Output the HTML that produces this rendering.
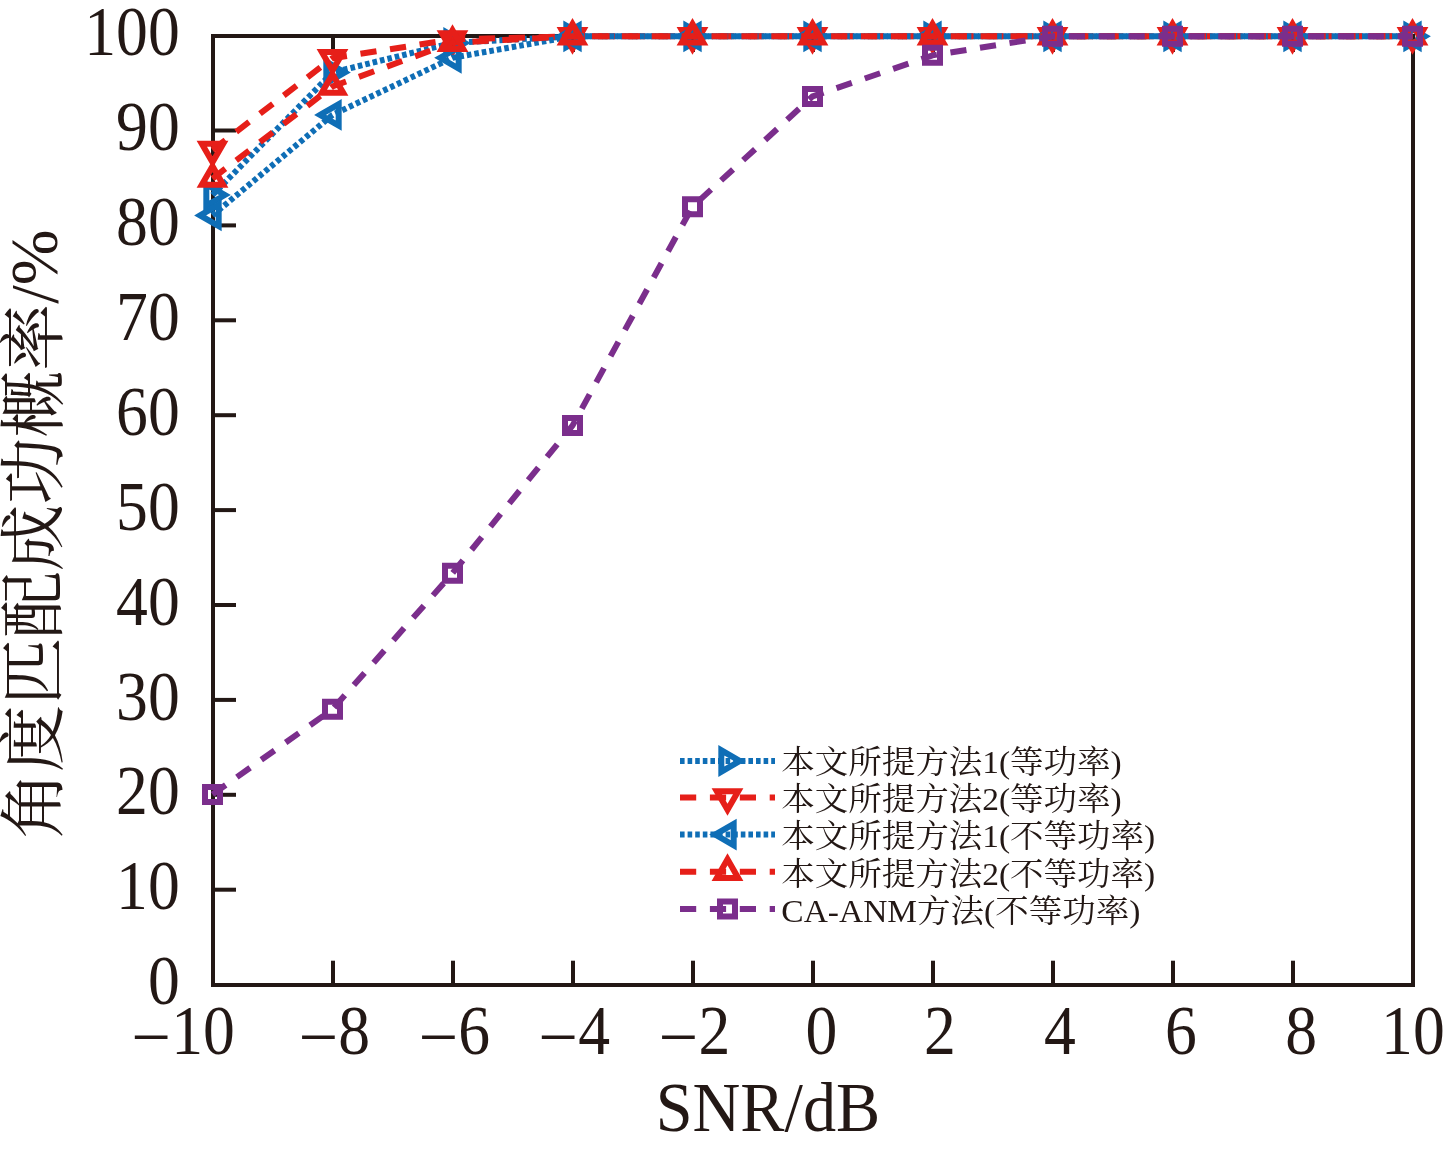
<!DOCTYPE html>
<html lang="zh"><head><meta charset="utf-8"><title>角度匹配成功概率 / SNR</title>
<style>html,body{margin:0;padding:0;background:#fff}svg{display:block;will-change:transform}</style></head>
<body>
<svg width="1446" height="1151" viewBox="0 0 1446 1151">
<rect width="1446" height="1151" fill="#fff"/>
<g stroke="#231815" stroke-width="4" fill="none" stroke-linecap="butt">
<rect x="213" y="36" width="1200" height="949"/>
<path d="M333 985 v-24.3"/>
<path d="M333 36 v16"/>
<path d="M453 985 v-24.3"/>
<path d="M453 36 v16"/>
<path d="M573 985 v-24.3"/>
<path d="M573 36 v16"/>
<path d="M693 985 v-24.3"/>
<path d="M693 36 v16"/>
<path d="M813 985 v-24.3"/>
<path d="M813 36 v16"/>
<path d="M933 985 v-24.3"/>
<path d="M933 36 v16"/>
<path d="M1053 985 v-24.3"/>
<path d="M1053 36 v16"/>
<path d="M1173 985 v-24.3"/>
<path d="M1173 36 v16"/>
<path d="M1293 985 v-24.3"/>
<path d="M1293 36 v16"/>
<path d="M213 889.70 h23"/>
<path d="M213 794.80 h23"/>
<path d="M213 699.90 h23"/>
<path d="M213 605.00 h23"/>
<path d="M213 510.10 h23"/>
<path d="M213 415.20 h23"/>
<path d="M213 320.30 h23"/>
<path d="M213 225.40 h23"/>
<path d="M213 130.50 h23"/>
</g>
<path d="M212.50 195.00 L332.50 72.50 L452.50 42.90 L572.50 36.30 L692.50 36.30 L812.50 36.30 L932.50 36.30 L1052.50 36.30 L1172.50 36.30 L1292.50 36.30 L1412.50 36.30" fill="none" stroke="#0f6eb6" stroke-width="6" stroke-dasharray="4.6 3" stroke-dashoffset="0"/>
<path d="M224.86 195.00 L206.32 205.70 L206.32 184.30Z M344.86 72.50 L326.32 83.20 L326.32 61.80Z M464.86 42.90 L446.32 53.60 L446.32 32.20Z M584.86 36.30 L566.32 47.00 L566.32 25.60Z M704.86 36.30 L686.32 47.00 L686.32 25.60Z M824.86 36.30 L806.32 47.00 L806.32 25.60Z M944.86 36.30 L926.32 47.00 L926.32 25.60Z M1064.86 36.30 L1046.32 47.00 L1046.32 25.60Z M1184.86 36.30 L1166.32 47.00 L1166.32 25.60Z M1304.86 36.30 L1286.32 47.00 L1286.32 25.60Z M1424.86 36.30 L1406.32 47.00 L1406.32 25.60Z" fill="none" stroke="#0f6eb6" stroke-width="6" stroke-linejoin="miter" stroke-miterlimit="10"/>
<path d="M212.50 150.00 L332.50 58.20 L452.50 39.40 L572.50 36.30 L692.50 36.30 L812.50 36.30 L932.50 36.30 L1052.50 36.30 L1172.50 36.30 L1292.50 36.30 L1412.50 36.30" fill="none" stroke="#e61f19" stroke-width="6" stroke-dasharray="16.2 13.7" stroke-dashoffset="0"/>
<path d="M212.50 162.36 L201.80 143.82 L223.20 143.82Z M332.50 70.56 L321.80 52.02 L343.20 52.02Z M452.50 51.76 L441.80 33.22 L463.20 33.22Z M572.50 48.66 L561.80 30.12 L583.20 30.12Z M692.50 48.66 L681.80 30.12 L703.20 30.12Z M812.50 48.66 L801.80 30.12 L823.20 30.12Z M932.50 48.66 L921.80 30.12 L943.20 30.12Z M1052.50 48.66 L1041.80 30.12 L1063.20 30.12Z M1172.50 48.66 L1161.80 30.12 L1183.20 30.12Z M1292.50 48.66 L1281.80 30.12 L1303.20 30.12Z M1412.50 48.66 L1401.80 30.12 L1423.20 30.12Z" fill="none" stroke="#e61f19" stroke-width="6" stroke-linejoin="miter" stroke-miterlimit="10"/>
<path d="M212.50 215.40 L332.50 114.90 L452.50 57.80 L572.50 36.30 L692.50 36.30 L812.50 36.30 L932.50 36.30 L1052.50 36.30 L1172.50 36.30 L1292.50 36.30 L1412.50 36.30" fill="none" stroke="#0f6eb6" stroke-width="6" stroke-dasharray="4.6 3" stroke-dashoffset="0"/>
<path d="M200.14 215.40 L218.68 204.70 L218.68 226.10Z M320.14 114.90 L338.68 104.20 L338.68 125.60Z M440.14 57.80 L458.68 47.10 L458.68 68.50Z M560.14 36.30 L578.68 25.60 L578.68 47.00Z M680.14 36.30 L698.68 25.60 L698.68 47.00Z M800.14 36.30 L818.68 25.60 L818.68 47.00Z M920.14 36.30 L938.68 25.60 L938.68 47.00Z M1040.14 36.30 L1058.68 25.60 L1058.68 47.00Z M1160.14 36.30 L1178.68 25.60 L1178.68 47.00Z M1280.14 36.30 L1298.68 25.60 L1298.68 47.00Z M1400.14 36.30 L1418.68 25.60 L1418.68 47.00Z" fill="none" stroke="#0f6eb6" stroke-width="6" stroke-linejoin="miter" stroke-miterlimit="10"/>
<path d="M212.50 178.60 L332.50 86.50 L452.50 42.70 L572.50 36.30 L692.50 36.30 L812.50 36.30 L932.50 36.30 L1052.50 36.30 L1172.50 36.30 L1292.50 36.30 L1412.50 36.30" fill="none" stroke="#e61f19" stroke-width="6" stroke-dasharray="16.2 13.7" stroke-dashoffset="0"/>
<path d="M212.50 166.24 L223.20 184.78 L201.80 184.78Z M332.50 74.14 L343.20 92.68 L321.80 92.68Z M452.50 30.34 L463.20 48.88 L441.80 48.88Z M572.50 23.94 L583.20 42.48 L561.80 42.48Z M692.50 23.94 L703.20 42.48 L681.80 42.48Z M812.50 23.94 L823.20 42.48 L801.80 42.48Z M932.50 23.94 L943.20 42.48 L921.80 42.48Z M1052.50 23.94 L1063.20 42.48 L1041.80 42.48Z M1172.50 23.94 L1183.20 42.48 L1161.80 42.48Z M1292.50 23.94 L1303.20 42.48 L1281.80 42.48Z M1412.50 23.94 L1423.20 42.48 L1401.80 42.48Z" fill="none" stroke="#e61f19" stroke-width="6" stroke-linejoin="miter" stroke-miterlimit="10"/>
<path d="M212.50 794.40 L332.50 709.30 L452.50 573.20 L572.50 425.60 L692.50 206.70 L812.50 96.40 L932.50 55.30 L1052.50 36.30 L1172.50 36.30 L1292.50 36.30 L1412.50 36.30" fill="none" stroke="#7b2e8c" stroke-width="6" stroke-dasharray="16.2 13.7" stroke-dashoffset="0"/>
<path d="M205.00 786.90 h15.00 v15.00 h-15.00 Z M325.00 701.80 h15.00 v15.00 h-15.00 Z M445.00 565.70 h15.00 v15.00 h-15.00 Z M565.00 418.10 h15.00 v15.00 h-15.00 Z M685.00 199.20 h15.00 v15.00 h-15.00 Z M805.00 88.90 h15.00 v15.00 h-15.00 Z M925.00 47.80 h15.00 v15.00 h-15.00 Z M1045.00 28.80 h15.00 v15.00 h-15.00 Z M1165.00 28.80 h15.00 v15.00 h-15.00 Z M1285.00 28.80 h15.00 v15.00 h-15.00 Z M1405.00 28.80 h15.00 v15.00 h-15.00 Z" fill="none" stroke="#7b2e8c" stroke-width="6" stroke-linejoin="miter" stroke-miterlimit="10"/>
<path d="M680 761 H775" stroke="#0f6eb6" stroke-width="6" stroke-dasharray="4.6 3" fill="none"/>
<path d="M739.86 761.00 L721.32 771.70 L721.32 750.30Z" fill="none" stroke="#0f6eb6" stroke-width="6" stroke-miterlimit="10"/>
<text transform="translate(781.3 773.2) scale(1 0.95)" font-size="33.5" fill="#231815" font-family="'Liberation Serif', 'Noto Serif CJK SC', serif">本文所提方法1(等功率)</text>
<path d="M680 797.5 H775" stroke="#e61f19" stroke-width="6" stroke-dasharray="16.2 13.7" fill="none"/>
<path d="M727.50 809.86 L716.80 791.32 L738.20 791.32Z" fill="none" stroke="#e61f19" stroke-width="6" stroke-miterlimit="10"/>
<text transform="translate(781.3 810.3) scale(1 0.95)" font-size="33.5" fill="#231815" font-family="'Liberation Serif', 'Noto Serif CJK SC', serif">本文所提方法2(等功率)</text>
<path d="M680 834.6 H775" stroke="#0f6eb6" stroke-width="6" stroke-dasharray="4.6 3" fill="none"/>
<path d="M715.14 834.60 L733.68 823.90 L733.68 845.30Z" fill="none" stroke="#0f6eb6" stroke-width="6" stroke-miterlimit="10"/>
<text transform="translate(781.3 847.4) scale(1 0.95)" font-size="33.5" fill="#231815" font-family="'Liberation Serif', 'Noto Serif CJK SC', serif">本文所提方法1(不等功率)</text>
<path d="M680 871.7 H775" stroke="#e61f19" stroke-width="6" stroke-dasharray="16.2 13.7" fill="none"/>
<path d="M727.50 859.34 L738.20 877.88 L716.80 877.88Z" fill="none" stroke="#e61f19" stroke-width="6" stroke-miterlimit="10"/>
<text transform="translate(781.3 884.5) scale(1 0.95)" font-size="33.5" fill="#231815" font-family="'Liberation Serif', 'Noto Serif CJK SC', serif">本文所提方法2(不等功率)</text>
<path d="M680 909 H775" stroke="#7b2e8c" stroke-width="6" stroke-dasharray="16.2 13.7" fill="none"/>
<path d="M720.00 901.50 h15.00 v15.00 h-15.00 Z" fill="none" stroke="#7b2e8c" stroke-width="6" stroke-miterlimit="10"/>
<text transform="translate(781.3 921.6) scale(1 0.95)" font-size="33.5" fill="#231815" font-family="'Liberation Serif', 'Noto Serif CJK SC', serif">CA-ANM方法(不等功率)</text>
<text transform="translate(179.7 1004.2) scale(0.9225 1)" text-anchor="end" font-size="69" fill="#231815" font-family="'Liberation Serif', 'Noto Serif CJK SC', serif">0</text>
<text transform="translate(179.7 909.3) scale(0.9225 1)" text-anchor="end" font-size="69" fill="#231815" font-family="'Liberation Serif', 'Noto Serif CJK SC', serif">10</text>
<text transform="translate(179.7 814.4) scale(0.9225 1)" text-anchor="end" font-size="69" fill="#231815" font-family="'Liberation Serif', 'Noto Serif CJK SC', serif">20</text>
<text transform="translate(179.7 719.5) scale(0.9225 1)" text-anchor="end" font-size="69" fill="#231815" font-family="'Liberation Serif', 'Noto Serif CJK SC', serif">30</text>
<text transform="translate(179.7 624.6) scale(0.9225 1)" text-anchor="end" font-size="69" fill="#231815" font-family="'Liberation Serif', 'Noto Serif CJK SC', serif">40</text>
<text transform="translate(179.7 529.7) scale(0.9225 1)" text-anchor="end" font-size="69" fill="#231815" font-family="'Liberation Serif', 'Noto Serif CJK SC', serif">50</text>
<text transform="translate(179.7 434.8) scale(0.9225 1)" text-anchor="end" font-size="69" fill="#231815" font-family="'Liberation Serif', 'Noto Serif CJK SC', serif">60</text>
<text transform="translate(179.7 339.9) scale(0.9225 1)" text-anchor="end" font-size="69" fill="#231815" font-family="'Liberation Serif', 'Noto Serif CJK SC', serif">70</text>
<text transform="translate(179.7 245.0) scale(0.9225 1)" text-anchor="end" font-size="69" fill="#231815" font-family="'Liberation Serif', 'Noto Serif CJK SC', serif">80</text>
<text transform="translate(179.7 150.1) scale(0.9225 1)" text-anchor="end" font-size="69" fill="#231815" font-family="'Liberation Serif', 'Noto Serif CJK SC', serif">90</text>
<text transform="translate(179.7 55.2) scale(0.9225 1)" text-anchor="end" font-size="69" fill="#231815" font-family="'Liberation Serif', 'Noto Serif CJK SC', serif">100</text>
<text transform="translate(185.0 1053.8) scale(0.9225 1)" text-anchor="middle" font-size="69" fill="#231815" font-family="'Liberation Serif', 'Noto Serif CJK SC', serif">–<tspan dx="4.5">10</tspan></text>
<text transform="translate(336.3 1053.8) scale(0.9225 1)" text-anchor="middle" font-size="69" fill="#231815" font-family="'Liberation Serif', 'Noto Serif CJK SC', serif">–<tspan dx="4.5">8</tspan></text>
<text transform="translate(456.3 1053.8) scale(0.9225 1)" text-anchor="middle" font-size="69" fill="#231815" font-family="'Liberation Serif', 'Noto Serif CJK SC', serif">–<tspan dx="4.5">6</tspan></text>
<text transform="translate(576.2 1053.8) scale(0.9225 1)" text-anchor="middle" font-size="69" fill="#231815" font-family="'Liberation Serif', 'Noto Serif CJK SC', serif">–<tspan dx="4.5">4</tspan></text>
<text transform="translate(696.4 1053.8) scale(0.9225 1)" text-anchor="middle" font-size="69" fill="#231815" font-family="'Liberation Serif', 'Noto Serif CJK SC', serif">–<tspan dx="4.5">2</tspan></text>
<text transform="translate(821.3 1053.8) scale(0.9225 1)" text-anchor="middle" font-size="69" fill="#231815" font-family="'Liberation Serif', 'Noto Serif CJK SC', serif">0</text>
<text transform="translate(939.8 1053.8) scale(0.9225 1)" text-anchor="middle" font-size="69" fill="#231815" font-family="'Liberation Serif', 'Noto Serif CJK SC', serif">2</text>
<text transform="translate(1060.0 1053.8) scale(0.9225 1)" text-anchor="middle" font-size="69" fill="#231815" font-family="'Liberation Serif', 'Noto Serif CJK SC', serif">4</text>
<text transform="translate(1180.9 1053.8) scale(0.9225 1)" text-anchor="middle" font-size="69" fill="#231815" font-family="'Liberation Serif', 'Noto Serif CJK SC', serif">6</text>
<text transform="translate(1301.2 1053.8) scale(0.9225 1)" text-anchor="middle" font-size="69" fill="#231815" font-family="'Liberation Serif', 'Noto Serif CJK SC', serif">8</text>
<text transform="translate(1412.9 1053.8) scale(0.9225 1)" text-anchor="middle" font-size="69" fill="#231815" font-family="'Liberation Serif', 'Noto Serif CJK SC', serif">10</text>
<text transform="translate(767.9 1130.5) scale(0.96 1)" text-anchor="middle" font-size="69" fill="#231815" font-family="'Liberation Serif', 'Noto Serif CJK SC', serif">SNR/dB</text>
<text transform="translate(57.4 838.9) rotate(-90)" font-size="66.9" fill="#231815" font-family="'Liberation Serif', 'Noto Serif CJK SC', serif">角度匹配成功概率/%</text>
</svg>
</body></html>
